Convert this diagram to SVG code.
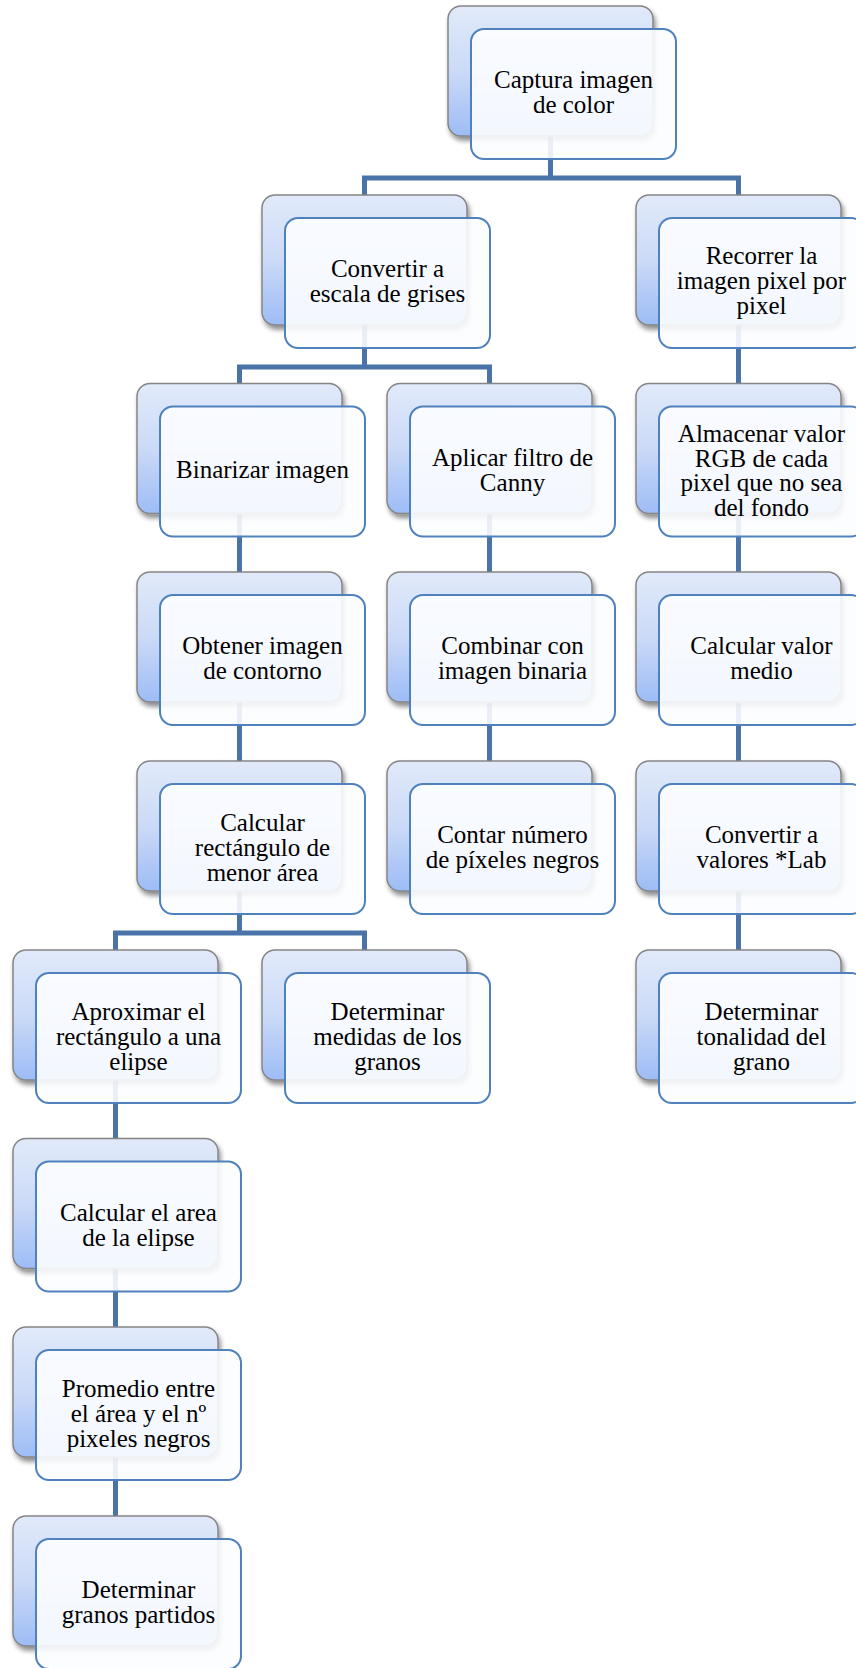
<svg xmlns="http://www.w3.org/2000/svg" width="856" height="1668" viewBox="0 0 856 1668">
<style>
.back{fill:url(#bg);stroke:#858585;stroke-width:1.5;filter:url(#sh)}
.front{fill:#fcfdff;fill-opacity:0.9;stroke:#4f81bd;stroke-width:2}
.lbl{font-family:"Liberation Serif","DejaVu Serif",serif;font-size:25px;fill:#000;text-anchor:middle}
.conn{fill:none;stroke:#4a73aa;stroke-width:5;stroke-linejoin:miter;stroke-linecap:butt}
</style>
<defs>
<linearGradient id="bg" x1="0" y1="0" x2="0" y2="1">
<stop offset="0" stop-color="#e1eafa"/>
<stop offset="0.5" stop-color="#cbdaf7"/>
<stop offset="1" stop-color="#9dbcf6"/>
</linearGradient>
<filter id="sh" x="-10%" y="-10%" width="130%" height="130%">
<feGaussianBlur in="SourceAlpha" stdDeviation="2.5"/>
<feOffset dx="2" dy="4" result="b"/>
<feComponentTransfer><feFuncA type="linear" slope="0.45"/></feComponentTransfer>
<feMerge><feMergeNode/><feMergeNode in="SourceGraphic"/></feMerge>
</filter>
</defs>
<rect width="856" height="1668" fill="#fff"/>
<g id="connectors" class="conn">
<path d="M550.5,136 V178 M364.5,195 V178 H738.5 V195"/>
<path d="M364.5,325 V367 M239.5,383.5 V367 H489.5 V383.5"/>
<path d="M738.5,325 V383.5 M738.5,513.5 V572 M738.5,702 V761 M738.5,891 V950"/>
<path d="M239.5,513.5 V572 M239.5,702 V761"/>
<path d="M489.5,513.5 V572 M489.5,702 V761"/>
<path d="M239.5,891 V933 M115.5,950 V933 H364.5 V950"/>
<path d="M115.5,1080 V1138.5 M115.5,1268.5 V1327 M115.5,1457 V1516"/>
</g>
<g id="n-captura">
<rect class="back" x="448" y="6" width="205" height="130" rx="13"/>
<rect class="front" x="471" y="29" width="205" height="130" rx="13"/>
<text class="lbl" x="573.5" y="88">Captura imagen</text>
<text class="lbl" x="573.5" y="113">de color</text>
</g>
<g id="n-convertir-grises">
<rect class="back" x="262" y="195" width="205" height="130" rx="13"/>
<rect class="front" x="285" y="218" width="205" height="130" rx="13"/>
<text class="lbl" x="387.5" y="277">Convertir a</text>
<text class="lbl" x="387.5" y="302">escala de grises</text>
</g>
<g id="n-recorrer">
<rect class="back" x="636" y="195" width="205" height="130" rx="13"/>
<rect class="front" x="659" y="218" width="205" height="130" rx="13"/>
<text class="lbl" x="761.5" y="264">Recorrer la</text>
<text class="lbl" x="761.5" y="289">imagen pixel por</text>
<text class="lbl" x="761.5" y="314">pixel</text>
</g>
<g id="n-binarizar">
<rect class="back" x="137" y="383.5" width="205" height="130" rx="13"/>
<rect class="front" x="160" y="406.5" width="205" height="130" rx="13"/>
<text class="lbl" x="262.5" y="478">Binarizar imagen</text>
</g>
<g id="n-canny">
<rect class="back" x="387" y="383.5" width="205" height="130" rx="13"/>
<rect class="front" x="410" y="406.5" width="205" height="130" rx="13"/>
<text class="lbl" x="512.5" y="466">Aplicar filtro de</text>
<text class="lbl" x="512.5" y="491">Canny</text>
</g>
<g id="n-almacenar">
<rect class="back" x="636" y="383.5" width="205" height="130" rx="13"/>
<rect class="front" x="659" y="406.5" width="205" height="130" rx="13"/>
<text class="lbl" x="761.5" y="442">Almacenar valor</text>
<text class="lbl" x="761.5" y="466.5">RGB de cada</text>
<text class="lbl" x="761.5" y="491">pixel que no sea</text>
<text class="lbl" x="761.5" y="515.5">del fondo</text>
</g>
<g id="n-obtener">
<rect class="back" x="137" y="572" width="205" height="130" rx="13"/>
<rect class="front" x="160" y="595" width="205" height="130" rx="13"/>
<text class="lbl" x="262.5" y="654">Obtener imagen</text>
<text class="lbl" x="262.5" y="679">de contorno</text>
</g>
<g id="n-combinar">
<rect class="back" x="387" y="572" width="205" height="130" rx="13"/>
<rect class="front" x="410" y="595" width="205" height="130" rx="13"/>
<text class="lbl" x="512.5" y="654">Combinar con</text>
<text class="lbl" x="512.5" y="679">imagen binaria</text>
</g>
<g id="n-medio">
<rect class="back" x="636" y="572" width="205" height="130" rx="13"/>
<rect class="front" x="659" y="595" width="205" height="130" rx="13"/>
<text class="lbl" x="761.5" y="654">Calcular valor</text>
<text class="lbl" x="761.5" y="679">medio</text>
</g>
<g id="n-rectangulo">
<rect class="back" x="137" y="761" width="205" height="130" rx="13"/>
<rect class="front" x="160" y="784" width="205" height="130" rx="13"/>
<text class="lbl" x="262.5" y="831">Calcular</text>
<text class="lbl" x="262.5" y="856">rectángulo de</text>
<text class="lbl" x="262.5" y="881">menor área</text>
</g>
<g id="n-contar">
<rect class="back" x="387" y="761" width="205" height="130" rx="13"/>
<rect class="front" x="410" y="784" width="205" height="130" rx="13"/>
<text class="lbl" x="512.5" y="843">Contar número</text>
<text class="lbl" x="512.5" y="868">de píxeles negros</text>
</g>
<g id="n-lab">
<rect class="back" x="636" y="761" width="205" height="130" rx="13"/>
<rect class="front" x="659" y="784" width="205" height="130" rx="13"/>
<text class="lbl" x="761.5" y="843">Convertir a</text>
<text class="lbl" x="761.5" y="868">valores *Lab</text>
</g>
<g id="n-aproximar">
<rect class="back" x="13" y="950" width="205" height="130" rx="13"/>
<rect class="front" x="36" y="973" width="205" height="130" rx="13"/>
<text class="lbl" x="138.5" y="1020">Aproximar el</text>
<text class="lbl" x="138.5" y="1045">rectángulo a una</text>
<text class="lbl" x="138.5" y="1070">elipse</text>
</g>
<g id="n-medidas">
<rect class="back" x="262" y="950" width="205" height="130" rx="13"/>
<rect class="front" x="285" y="973" width="205" height="130" rx="13"/>
<text class="lbl" x="387.5" y="1020">Determinar</text>
<text class="lbl" x="387.5" y="1045">medidas de los</text>
<text class="lbl" x="387.5" y="1070">granos</text>
</g>
<g id="n-tonalidad">
<rect class="back" x="636" y="950" width="205" height="130" rx="13"/>
<rect class="front" x="659" y="973" width="205" height="130" rx="13"/>
<text class="lbl" x="761.5" y="1020">Determinar</text>
<text class="lbl" x="761.5" y="1045">tonalidad del</text>
<text class="lbl" x="761.5" y="1070">grano</text>
</g>
<g id="n-area">
<rect class="back" x="13" y="1138.5" width="205" height="130" rx="13"/>
<rect class="front" x="36" y="1161.5" width="205" height="130" rx="13"/>
<text class="lbl" x="138.5" y="1221">Calcular el area</text>
<text class="lbl" x="138.5" y="1246">de la elipse</text>
</g>
<g id="n-promedio">
<rect class="back" x="13" y="1327" width="205" height="130" rx="13"/>
<rect class="front" x="36" y="1350" width="205" height="130" rx="13"/>
<text class="lbl" x="138.5" y="1397">Promedio entre</text>
<text class="lbl" x="138.5" y="1422">el área y el nº</text>
<text class="lbl" x="138.5" y="1447">pixeles negros</text>
</g>
<g id="n-partidos">
<rect class="back" x="13" y="1516" width="205" height="130" rx="13"/>
<rect class="front" x="36" y="1539" width="205" height="130" rx="13"/>
<text class="lbl" x="138.5" y="1598">Determinar</text>
<text class="lbl" x="138.5" y="1623">granos partidos</text>
</g>
</svg>
